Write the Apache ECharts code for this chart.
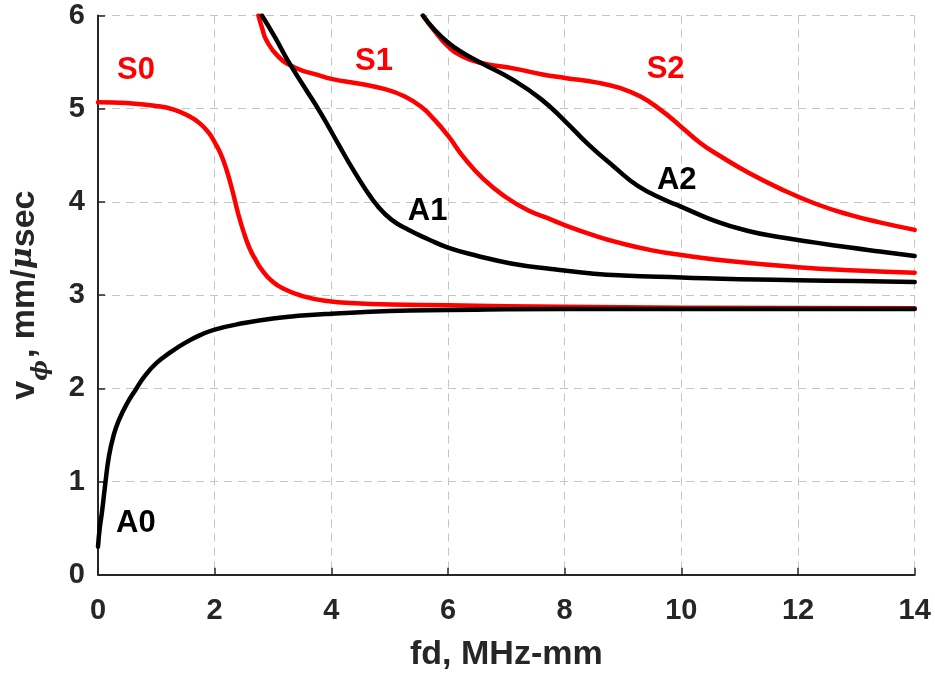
<!DOCTYPE html>
<html>
<head>
<meta charset="utf-8">
<script src="https://cdn.jsdelivr.net/npm/echarts@6/dist/echarts.min.js"></script>
<style>
html,body{margin:0;padding:0;background:#fff;}
#chart{width:935px;height:677px;}
</style>
</head>
<body>
<div id="chart"></div>
<script>
// ---- data (fd in MHz-mm, phase velocity in mm/usec) ----
const xTicks = [0, 2, 4, 6, 8, 10, 12, 14];
const yTicks = [0, 1, 2, 3, 4, 5, 6];

const A0 = [[0,0.3],[0.03,0.5],[0.07,0.68],[0.12,0.95],[0.19,1.28],[0.27,1.5],[0.36,1.66],[0.5,1.84],[0.64,1.98],[0.8,2.13],[1.0,2.27],[1.25,2.39],[1.5,2.49],[1.75,2.57],[2.0,2.63],[2.5,2.7],[3.0,2.75],[3.5,2.78],[4.0,2.8],[5.0,2.83],[6.0,2.84],[8.0,2.85],[10.0,2.85],[12.0,2.85],[14.0,2.85]];
const S0 = [[0,5.07],[0.5,5.06],[1.0,5.03],[1.3,4.99],[1.56,4.92],[1.75,4.84],[1.9,4.74],[2.0,4.64],[2.1,4.52],[2.2,4.35],[2.3,4.13],[2.4,3.88],[2.5,3.67],[2.6,3.5],[2.7,3.38],[2.81,3.27],[3.0,3.14],[3.21,3.06],[3.5,2.99],[3.89,2.94],[4.5,2.91],[5.03,2.9],[6.0,2.89],[8.0,2.875],[10.0,2.865],[14.0,2.86]];
const S1 = [[2.75,6.0],[2.82,5.85],[2.89,5.73],[3.09,5.56],[3.38,5.44],[3.78,5.36],[4.0,5.32],[4.46,5.27],[4.92,5.21],[5.26,5.13],[5.54,5.02],[5.77,4.88],[6.0,4.71],[6.28,4.47],[6.6,4.25],[6.97,4.06],[7.37,3.91],[7.77,3.81],[8.0,3.75],[8.5,3.64],[8.91,3.565],[9.5,3.48],[10.0,3.43],[10.9,3.36],[12.0,3.3],[13.0,3.265],[14.0,3.24]];
const A1 = [[2.81,6.0],[3.04,5.76],[3.26,5.51],[3.55,5.22],[3.83,4.94],[4.12,4.62],[4.35,4.37],[4.57,4.15],[4.8,3.95],[5.03,3.81],[5.32,3.7],[5.66,3.6],[6.0,3.51],[6.51,3.42],[7.08,3.34],[7.77,3.28],[8.5,3.23],[9.0,3.21],[10.0,3.19],[11.0,3.17],[12.0,3.16],[13.0,3.15],[14.0,3.14]];
const S2 = [[5.57,6.0],[5.75,5.85],[6.0,5.67],[6.25,5.56],[6.57,5.49],[7.14,5.43],[7.6,5.37],[8.0,5.33],[8.56,5.28],[8.96,5.22],[9.3,5.13],[9.64,4.99],[9.99,4.81],[10.33,4.63],[10.67,4.49],[11.13,4.32],[11.7,4.14],[12.3,3.98],[12.89,3.86],[13.4,3.78],[14.0,3.7]];
const A2 = [[5.57,6.0],[5.75,5.86],[6.0,5.71],[6.25,5.6],[6.57,5.49],[7.14,5.3],[7.6,5.1],[8.0,4.87],[8.4,4.62],[8.86,4.37],[9.26,4.17],[9.72,4.02],[9.99,3.95],[10.56,3.8],[11.13,3.69],[11.7,3.62],[12.3,3.563],[12.89,3.51],[13.4,3.468],[14.0,3.42]];

const symNames = ['S0', 'S1', 'S2'];
const symX = [0.65, 4.73, 9.73];
const symY = [5.41, 5.51, 5.42];
const antiNames = ['A0', 'A1', 'A2'];
const antiX = [0.65, 5.65, 9.92];
const antiY = [0.55, 3.90, 4.23];

const xTitle = 'fd, MHz-mm';
// ---- chart ----
const FONT = "Liberation Sans, Arial, Helvetica, sans-serif";
const TXT = '#262626';
const chart = echarts.init(document.getElementById('chart'), null, {renderer: 'canvas'});

function lineSeries(name, data, color) {
  return {
    name: name, type: 'line', data: data, showSymbol: false, symbol: 'none',
    smooth: 0.5, clip: true,
    lineStyle: {color: color, width: 4.5, cap: 'round', join: 'round'},
    emphasis: {disabled: true}, silent: true
  };
}

chart.setOption({
  animation: false,
  backgroundColor: '#ffffff',
  grid: {left: 95.7, right: 20.3, top: 15.5, bottom: 102.3, containLabel: false},
  xAxis: {
    type: 'value', min: xTicks[0], max: xTicks[xTicks.length - 1], interval: 2,
    name: xTitle, nameLocation: 'middle', nameGap: 63,
    nameTextStyle: {color: TXT, fontFamily: FONT, fontWeight: 'bold', fontSize: 34},
    axisLine: {show: true, onZero: false, lineStyle: {color: TXT, width: 2}},
    axisTick: {show: true, inside: true, length: 7, lineStyle: {color: TXT, width: 1.5}},
    axisLabel: {color: TXT, fontFamily: FONT, fontWeight: 'bold', fontSize: 29, margin: 22},
    splitLine: {show: true, lineStyle: {color: '#c4c4c4', width: 1, type: [8, 6]}}
  },
  yAxis: {
    type: 'value', min: yTicks[0], max: yTicks[yTicks.length - 1], interval: 1,
    name: '{n|v}{sub|\u03D5}{n|, mm/}{mu|\u03BC}{n|sec}',
    nameLocation: 'middle', nameGap: 56, nameRotate: 90,
    nameTextStyle: {
      color: TXT, fontFamily: FONT, fontWeight: 'bold', fontSize: 34,
      rich: {
        n: {color: TXT, fontFamily: FONT, fontWeight: 'bold', fontSize: 34, lineHeight: 34, verticalAlign: 'top'},
        sub: {color: TXT, fontFamily: "DejaVu Serif, serif", fontStyle: 'italic', fontSize: 22, lineHeight: 22, padding: [22, 2, 0, 0], verticalAlign: 'top'},
        mu: {color: TXT, fontFamily: "DejaVu Serif, serif", fontStyle: 'italic', fontSize: 30, lineHeight: 34, verticalAlign: 'top'}
      }
    },
    axisLine: {show: true, onZero: false, lineStyle: {color: TXT, width: 2}},
    axisTick: {show: true, inside: true, length: 7, lineStyle: {color: TXT, width: 1.5}},
    axisLabel: {color: TXT, fontFamily: FONT, fontWeight: 'bold', fontSize: 29, margin: 13},
    splitLine: {show: true, lineStyle: {color: '#c4c4c4', width: 1, type: [8, 6]}}
  },
  series: [
    lineSeries('S0', S0, '#ff0000'),
    lineSeries('S1', S1, '#ff0000'),
    lineSeries('S2', S2, '#ff0000'),
    lineSeries('A0', A0, '#000000'),
    lineSeries('A1', A1, '#000000'),
    lineSeries('A2', A2, '#000000')
  ]
});

// mode labels placed through the chart's own coordinate conversion
function modeLabels(names, xs, ys, color) {
  return names.map((n, i) => {
    const p = chart.convertToPixel({gridIndex: 0}, [xs[i], ys[i]]);
    return {
      type: 'text', x: p[0], y: p[1], z: 100, silent: true,
      style: {text: n, fill: color, fontSize: 31, fontWeight: 'bold', fontFamily: FONT,
        align: 'center', verticalAlign: 'middle'}
    };
  });
}
chart.setOption({
  graphic: modeLabels(symNames, symX, symY, '#ff0000').concat(modeLabels(antiNames, antiX, antiY, '#000000'))
});
</script>
</body>
</html>
